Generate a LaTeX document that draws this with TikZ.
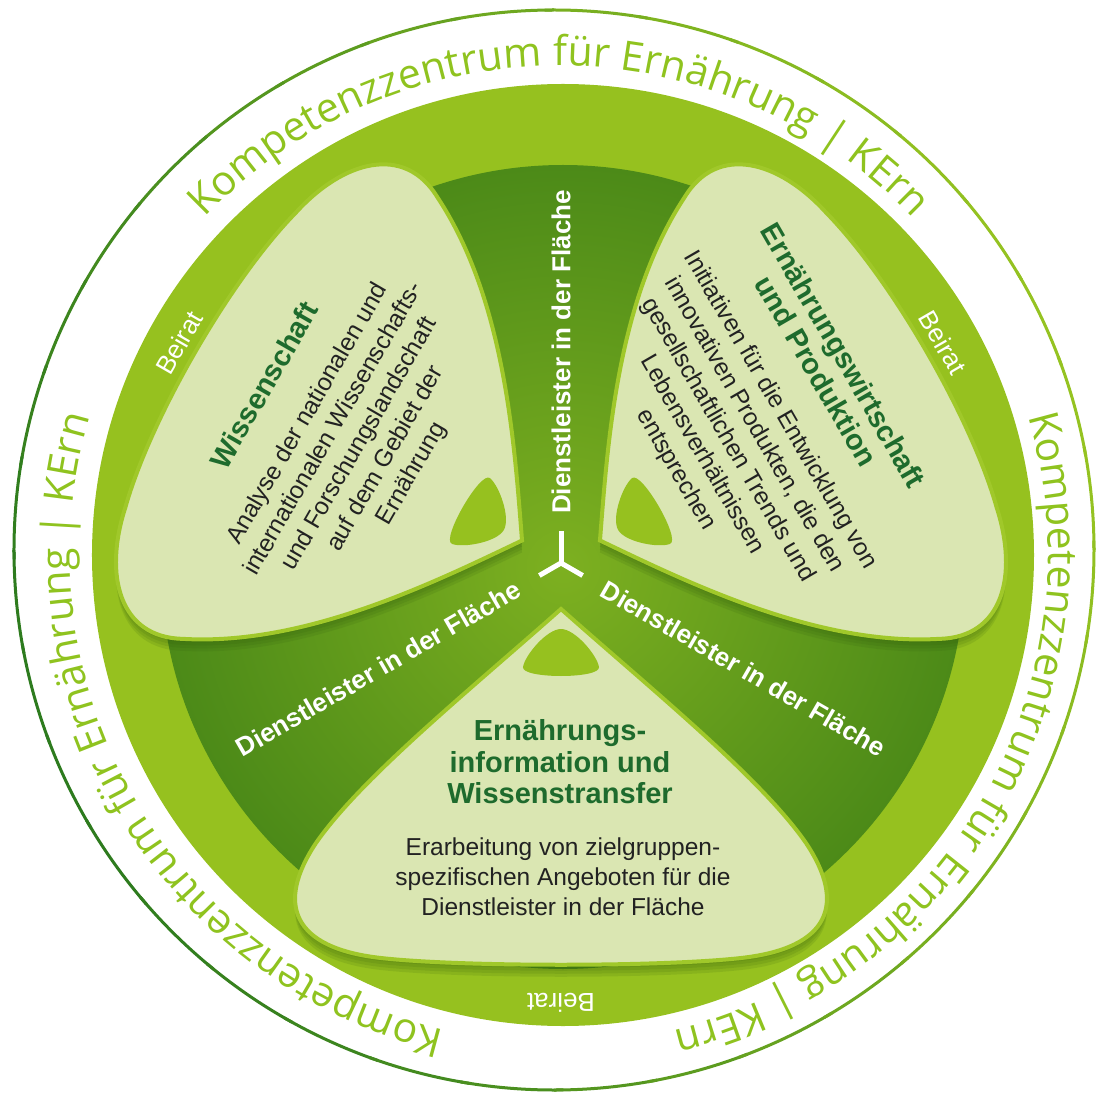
\documentclass[tikz,border=0pt]{standalone}
\usepackage{fontspec}
\setmainfont{Liberation Sans}
\newfontfamily\ringfont{Open Sans}
\usetikzlibrary{calc, decorations.text}

\definecolor{bandgreen}{HTML}{96C11F}
\definecolor{diskdark}{HTML}{4C8A18}
\definecolor{disklight}{HTML}{7DB020}
\definecolor{petalfill}{HTML}{DAE6B2}
\definecolor{rimgreen}{HTML}{A0C82A}
\definecolor{shadowgreen}{HTML}{2F5A0C}
\definecolor{titlegreen}{HTML}{1E6B2D}
\definecolor{bodygray}{HTML}{222222}
\definecolor{ringtext}{HTML}{8FC31F}
\definecolor{ringdark}{HTML}{2C7A1E}
\definecolor{ringlight}{HTML}{95C321}

% upper petal (drawn pointing down, then rotated), tip towards the hub
\newcommand{\petalpath}{(0,-45) .. controls (-80,-100) and (-200,-180) .. (-255,-290)
  .. controls (-285,-345) and (-240,-390) .. (-170,-405)
  .. controls (-80,-428) and (80,-428) .. (170,-405)
  .. controls (240,-390) and (285,-345) .. (255,-290)
  .. controls (200,-180) and (80,-100) .. (0,-45) -- cycle}
% lower petal, flatter at the bottom
\newcommand{\lowpetalpath}{(0,-46) .. controls (-90,-126) and (-200,-215) .. (-245,-280)
  .. controls (-285,-340) and (-270,-385) .. (-180,-395)
  .. controls (-100,-404) and (100,-404) .. (180,-395)
  .. controls (270,-385) and (285,-340) .. (245,-280)
  .. controls (200,-215) and (90,-126) .. (0,-46) -- cycle}
\newcommand{\droppath}{(0,-66) .. controls (-14,-66) and (-36,-92) .. (-38,-104)
  .. controls (-40,-116) and (40,-116) .. (38,-104)
  .. controls (36,-92) and (14,-66) .. (0,-66) -- cycle}

\begin{document}
\begin{tikzpicture}[x=1pt, y=1pt,
    petal/.style={fill=petalfill, draw=rimgreen, line width=4pt},
    petal shadow/.style={fill=shadowgreen, opacity=0.13},
    drop/.style={fill=bandgreen},
    title/.style={font=\fontsize{29}{31.5}\selectfont\bfseries, text=titlegreen, align=center},
    body/.style={font=\fontsize{24.5}{30}\selectfont, text=bodygray, align=center},
    dienst/.style={font=\fontsize{26}{26}\selectfont\bfseries, text=white},
    beirat/.style={font=\fontsize{26}{26}\selectfont, text=white},
    yarm/.style={white, line width=5pt}]

    \useasboundingbox[fill=white] (-559,-543) rectangle (536,560);

    % outer ring line, dark on the left, light on the right
    \coordinate (ringc) at (-5,10);
    \foreach \k in {0,...,35} {
        \pgfmathtruncatemacro\mixp{50+50*cos(\k*10+5-200)}
        \draw[line width=3pt, ringdark!\mixp!ringlight] (ringc) ++(\k*10:540)
            arc[start angle=\k*10, end angle=\k*10+11, radius=540];
    }

    % band and dark centre disk
    \fill[bandgreen] (4,5) circle (471);
    \shade[inner color=disklight, outer color=diskdark] (4,-7) circle (402);

    % ring text, three times
    \foreach \a in {90,-30,210}
        \path[decorate, decoration={text along path, text align=center,
            text={|\ringfont\fontsize{41}{41}\selectfont\color{ringtext}|Kompetenzzentrum für Ernährung {\textbar} KErn}}]
            ($(0,5)+(\a+70:489)$) arc[start angle=\a+70, end angle=\a-70, radius=489];

    \begin{scope}[shift={(2,-3)}]
        % petals with soft shadow
        \foreach \s in {3,6,9,12} {
            \fill[petal shadow, yshift=-\s] \lowpetalpath;
            \foreach \a in {120,240}
                \fill[petal shadow, yshift=-\s, rotate=\a] \petalpath;
        }
        \filldraw[petal] \lowpetalpath;
        \fill[drop] \droppath;
        \foreach \a in {120,240} {
            \filldraw[petal, rotate=\a] \petalpath;
            \fill[drop, rotate=\a] \droppath;
        }

        % hub and channel labels
        \coordinate (hub) at (0,0);
        \foreach \a/\l in {90/32, 210/25, 330/25}
            \draw[yarm] (hub) -- ++(\a:\l);
        \node[dienst, rotate=90] (dienstN) at (90:211) {Dienstleister in der Fläche};
        \node[dienst, rotate=30] (dienstW) at (210:211) {Dienstleister in der Fläche};
        \node[dienst, rotate=-30] (dienstE) at (330:211) {Dienstleister in der Fläche};

        % Beirat in the band
        \node[beirat, rotate=60] (beiratW) at (150:441) {Beirat};
        \node[beirat, rotate=-60] (beiratE) at (30:441) {Beirat};
        \node[beirat, rotate=180] (beiratS) at (270:440) {Beirat};

        % petal texts
        \node[title] (info) at (-1,-199) {Ernährungs-\\information und\\Wissenstransfer};
        \node[body] (infobody) at (2,-314) {Erarbeitung von zielgruppen-\\spezifischen Angeboten für die\\Dienstleister in der Fläche};
        \node[title, rotate=60] (wiss) at (-297,178) {Wissenschaft};
        \node[body, rotate=60] (wissbody) at (-201,119) {Analyse der nationalen und\\internationalen Wissenschafts-\\und Forschungslandschaft\\auf dem Gebiet der\\Ernährung};
        \node[title, rotate=-60] (wirt) at (269,200) {Ernährungswirtschaft\\und Produktion};
        \node[body, rotate=-60] (wirtbody) at (167,123) {Initiativen für die Entwicklung von\\innovativen Produkten, die den\\gesellschaftlichen Trends und\\Lebensverhältnissen\\entsprechen};
    \end{scope}
\end{tikzpicture}
\end{document}
